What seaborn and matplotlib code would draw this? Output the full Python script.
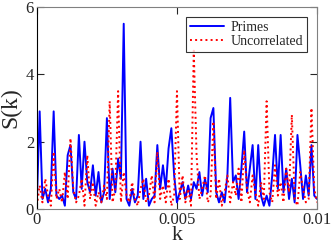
import numpy as np
import pandas as pd
import matplotlib
matplotlib.use("Agg")
import matplotlib.pyplot as plt
import seaborn as sns

k_step = 1e-4
primes = [0.2, 2.9, 0.3, 0.6, 0.2, 0.6, 2.9, 0.4, 0.3, 0.4,
          0.1, 1.6, 1.9, 0.5, 0.3, 2.2, 0.6, 2.0, 0.8, 0.5,
          1.3, 0.4, 1.1, 0.2, 0.5, 2.7, 0.3, 1.2, 0.5, 1.5,
          0.9, 5.5, 0.3, 0.1, 0.6, 0.2, 0.4, 2.0, 0.3, 0.9,
          0.1, 0.3, 0.4, 1.9, 0.6, 1.3, 0.6, 1.8, 2.4, 1.0,
          0.2, 0.5, 0.8, 0.3, 0.7, 0.3, 0.8, 0.6, 1.1, 0.4,
          0.9, 0.5, 2.7, 3.0, 0.5, 0.2, 0.5, 0.2, 1.0, 3.3,
          0.8, 1.0, 0.3, 1.2, 2.3, 0.5, 1.2, 1.9, 0.3, 1.9,
          0.4, 0.1, 0.4, 0.1, 1.0, 2.2, 0.6, 2.2, 0.5, 1.2,
          0.3, 0.9, 0.2, 2.2, 1.3, 0.3, 1.0, 0.4, 1.9, 0.4, 0.3]
uncorrelated = [0.1, 0.7, 0.2, 0.9, 0.4, 0.1, 1.7, 0.3, 0.6, 0.2,
                1.1, 0.3, 2.1, 0.6, 0.2, 0.4, 0.9, 0.1, 1.6, 0.3,
                0.8, 0.1, 0.5, 0.2, 0.7, 0.3, 3.2, 0.2, 0.6, 3.5,
                0.2, 1.1, 0.4, 0.2, 0.8, 0.3, 0.1, 0.6, 0.9, 0.2,
                0.4, 1.0, 0.2, 1.7, 0.3, 0.7, 0.2, 0.9, 0.1, 0.4,
                3.5, 0.3, 1.0, 0.2, 0.6, 0.1, 4.7, 1.6, 0.3, 0.6,
                1.0, 0.2, 0.4, 2.6, 0.3, 0.9, 0.1, 0.5, 1.0, 0.2,
                0.8, 0.4, 1.2, 0.2, 1.75, 0.6, 0.2, 1.0, 0.5, 0.1,
                0.8, 0.3, 3.2, 0.5, 0.2, 1.3, 0.4, 0.8, 0.2, 1.2,
                0.5, 2.8, 0.3, 0.1, 1.1, 0.6, 0.2, 0.3, 3.0, 0.6, 0.2]
k_primes = np.arange(len(primes)) * k_step
k_unc = np.arange(len(uncorrelated)) * k_step

xticks = [0, 0.005, 0.01]
xticklabels = ["0", "0.005", "0.01"]
yticks = [0, 2, 4, 6]
yticklabels = ["0", "2", "4", "6"]

sns.set_style("ticks")
plt.rcParams['font.family'] = ['Liberation Serif', 'DejaVu Serif']

fig = plt.figure(figsize=(3.32, 2.46), dpi=100)
ax = fig.add_axes([0.111, 0.150, 0.844, 0.822])

df_p = pd.DataFrame({"k": k_primes, "S": primes})
df_u = pd.DataFrame({"k": k_unc, "S": uncorrelated})
sns.lineplot(data=df_p, x="k", y="S", ax=ax, color="#0000ff", lw=1.4, label="Primes")
sns.lineplot(data=df_u, x="k", y="S", ax=ax, color="#ff0000", lw=1.4, ls=":", label="Uncorrelated")

ax.set_xlim(0, 0.01)
ax.set_ylim(0, 6)
ax.set_xticks(xticks)
ax.set_xticklabels(xticklabels)
ax.set_yticks(yticks)
ax.set_yticklabels(yticklabels)
ax.tick_params(direction="in", length=5, labelsize=12, top=True, right=True, pad=2)
ax.set_xlabel("k", fontsize=16, labelpad=-1)
ax.set_ylabel("S(k)", fontsize=17, labelpad=3)
for side in ["top", "right", "bottom"]:
    ax.spines[side].set_color("#808080")
ax.spines["left"].set_color("black")

leg = ax.legend(loc="upper right", fontsize=10, frameon=True, fancybox=False,
                edgecolor="black", borderpad=0.3, labelspacing=0.1,
                handlelength=2.4, handletextpad=0.5, borderaxespad=0.7)
leg.get_frame().set_linewidth(0.8)

fig.savefig("out.png", dpi=100)
